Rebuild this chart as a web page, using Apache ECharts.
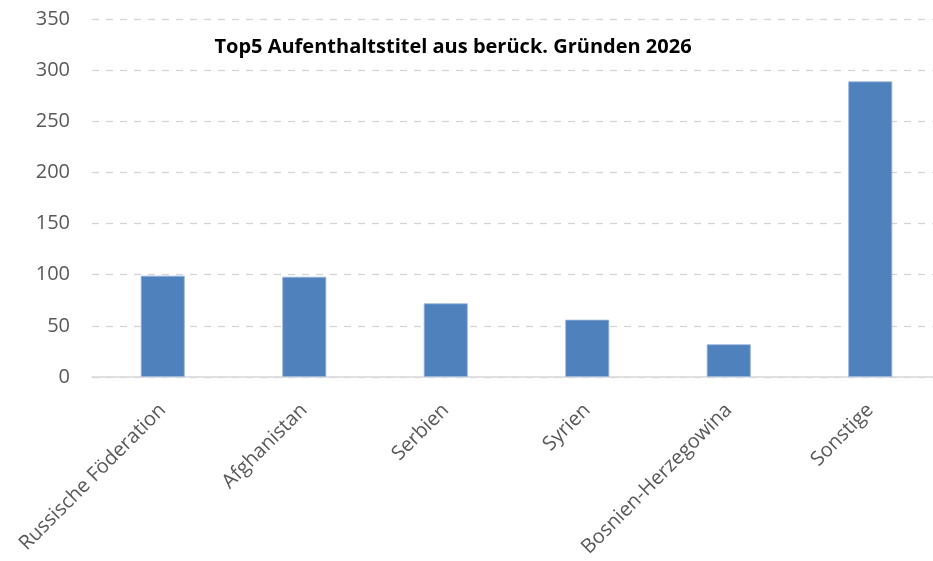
<!DOCTYPE html>
<html>
<head>
<meta charset="utf-8">
<script src="https://cdn.jsdelivr.net/npm/echarts@6/dist/echarts.min.js"></script>
<style>
  html, body { margin: 0; padding: 0; background: #ffffff; }
  #chart { width: 933px; height: 561px; }
</style>
</head>
<body>
<div id="chart"></div>
<script>
// Herkunftsländer und Anzahl der Aufenthaltstitel
const categories = ['Russische Föderation', 'Afghanistan', 'Serbien', 'Syrien', 'Bosnien-Herzegowina', 'Sonstige'];
const values = [99, 98, 72, 56, 32, 289];
const yTicks = { min: 0, max: 350, interval: 50 };
const titleText = 'Top5 Aufenthaltstitel aus berück. Gründen 2026';

const chart = echarts.init(document.getElementById('chart'), null, { renderer: 'canvas' });

chart.setOption({
  backgroundColor: '#ffffff',
  animation: false,
  title: {
    text: titleText,
    left: 448,
    textAlign: 'center',
    top: 32,
    textStyle: {
      fontFamily: 'Open Sans',
      fontWeight: 'bold',
      fontSize: 20,
      color: '#000000'
    }
  },
  grid: {
    left: 92,
    top: 19,
    width: 849,
    height: 358,
    outerBoundsMode: 'none',
    containLabel: false
  },
  xAxis: {
    type: 'category',
    data: categories,
    axisLine: { show: true, lineStyle: { color: '#d9d9d9', width: 1.5 } },
    axisTick: { show: false },
    axisLabel: {
      rotate: 45,
      interval: 0,
      margin: 30,
      fontFamily: 'Open Sans',
      fontSize: 20,
      color: '#595959'
    }
  },
  yAxis: {
    type: 'value',
    min: yTicks.min,
    max: yTicks.max,
    interval: yTicks.interval,
    axisLine: { show: false },
    axisTick: { show: false },
    splitLine: {
      show: true,
      lineStyle: { color: '#d4d4d4', width: 1.3, type: [7, 7] }
    },
    axisLabel: {
      margin: 22,
      fontFamily: 'Open Sans',
      fontSize: 20,
      color: '#595959'
    }
  },
  series: [{
    type: 'bar',
    data: values,
    barWidth: 44,
    itemStyle: {
      color: '#4f81bd',
      borderColor: '#9db8df',
      borderWidth: 0.8
    }
  }]
});
</script>
</body>
</html>
